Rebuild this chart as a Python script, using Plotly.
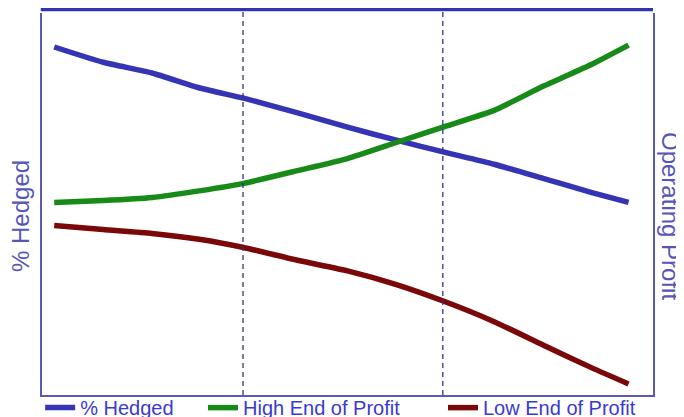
import plotly.graph_objects as go

# position along the horizon (0-100), shared by all series
x_pos = [2, 10, 18, 26, 33, 42, 50, 58, 66, 74, 82, 90, 96]

hedged = [91.1, 87.1, 84.3, 80.3, 77.7, 73.8, 70.1, 66.7, 63.5, 60.4, 56.7, 53.0, 50.4]
high_profit = [50.4, 50.9, 51.7, 53.5, 55.4, 58.8, 61.9, 66.1, 70.3, 74.5, 80.8, 86.6, 91.6]
low_profit = [44.4, 43.3, 42.3, 40.7, 38.6, 35.2, 32.5, 28.9, 24.4, 19.2, 13.1, 7.1, 2.9]

marker_x = [32.9, 65.6]

series_names = ["% Hedged", "High End of Profit", "Low End of Profit"]
line_colors = ["#3434b4", "#178a17", "#7a0808"]
legend_x = [-0.003, 0.2635, 0.6563]

AXIS_COLOR = "#5a5ab4"
TEXT_COLOR = "#3a3ad0"
TITLE_COLOR = "#5656b8"
FONT = "Liberation Sans, Arial, sans-serif"

fig = go.Figure()
for i, vals in enumerate([hedged, high_profit, low_profit]):
    fig.add_trace(go.Scatter(
        x=x_pos, y=vals, name=series_names[i], mode="lines",
        line=dict(color=line_colors[i], width=5.5, shape="spline", smoothing=0.5),
        yaxis="y" if i == 0 else "y2",
        legend="legend" if i == 0 else f"legend{i + 1}",
    ))

# dashed period markers
for xv in marker_x:
    fig.add_shape(type="line", xref="x", yref="paper", x0=xv, x1=xv, y0=0, y1=1.02,
                  line=dict(color="#333388", width=1.3, dash="5px,4px"))

# heavy rule across the top
fig.add_shape(type="rect", xref="paper", yref="paper", x0=-0.002, x1=1.0,
              y0=1.0045, y1=1.015, line=dict(width=0), fillcolor="#3333b0")

fig.add_annotation(text="% Hedged", xref="paper", yref="paper",
                   x=-0.0344, xanchor="center", y=0.4686, yanchor="middle",
                   textangle=-90, showarrow=False,
                   font=dict(size=24, color=TITLE_COLOR, family=FONT))
fig.add_annotation(text="Operating Profit", xref="paper", yref="paper",
                   x=1.0278, xanchor="center", y=0.4686, yanchor="middle",
                   textangle=90, showarrow=False,
                   font=dict(size=24, color=TITLE_COLOR, family=FONT))

legend_style = dict(orientation="h", xanchor="left", y=0.018, yanchor="top",
                    font=dict(size=20, color=TEXT_COLOR, family=FONT),
                    bgcolor="rgba(0,0,0,0)", itemwidth=30)

# page body adds an 8px offset, so the figure is sized to the visible window
fig.update_layout(
    width=676, height=409,
    margin=dict(l=34, r=31, t=5, b=22, autoexpand=False),
    paper_bgcolor="white", plot_bgcolor="white",
    font=dict(family=FONT, color=TEXT_COLOR),
    showlegend=True,
    legend=dict(x=legend_x[0], **legend_style),
    legend2=dict(x=legend_x[1], **legend_style),
    legend3=dict(x=legend_x[2], **legend_style),
    xaxis=dict(range=[0, 100], showgrid=False, zeroline=False, showticklabels=False,
               ticks="", showline=True, linecolor=AXIS_COLOR, linewidth=1.5),
    yaxis=dict(range=[0, 100], showgrid=False, zeroline=False, showticklabels=False,
               ticks="", showline=True, linecolor=AXIS_COLOR, linewidth=1.5,
               automargin=False),
    yaxis2=dict(range=[0, 100], overlaying="y", side="right", showgrid=False,
                zeroline=False, showticklabels=False, ticks="", showline=True,
                linecolor=AXIS_COLOR, linewidth=1.5, automargin=False),
)

fig.write_html("out.html")
